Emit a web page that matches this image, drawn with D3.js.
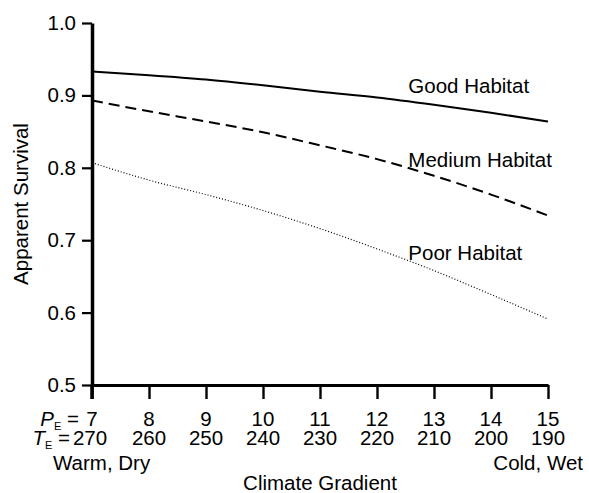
<!DOCTYPE html>
<html>
<head>
<meta charset="utf-8">
<script src="https://cdn.jsdelivr.net/npm/d3@7"></script>
<style>
  html, body { margin: 0; padding: 0; background: #fff; }
  svg { display: block; }
  text { font-family: "Liberation Sans", Arial, Helvetica, sans-serif; fill: #000; }
</style>
</head>
<body>
<svg id="chart" width="589" height="493"></svg>
<script>
// ---- data ----
const pValues = [7, 8, 9, 10, 11, 12, 13, 14, 15];
const tValues = [270, 260, 250, 240, 230, 220, 210, 200, 190];
const goodHabitat   = [0.933, 0.928, 0.922, 0.914, 0.905, 0.897, 0.887, 0.876, 0.864];
const mediumHabitat = [0.893, 0.878, 0.864, 0.849, 0.831, 0.812, 0.789, 0.763, 0.734];
const poorHabitat   = [0.807, 0.783, 0.763, 0.741, 0.716, 0.688, 0.658, 0.625, 0.591];
const yTicks = [0.5, 0.6, 0.7, 0.8, 0.9, 1.0];
const seriesNames = ["Good Habitat", "Medium Habitat", "Poor Habitat"];
const labelValues = [0.903, 0.8005, 0.672];

// ---- layout ----
const svg = d3.select("#chart");
const x = d3.scaleLinear().domain([7, 15]).range([92, 548]);
const y = d3.scaleLinear().domain([0.5, 1.0]).range([385, 23]);
const FS = "20.5px";

// ---- y axis ----
const yAxis = d3.axisLeft(y).tickValues(yTicks).tickSize(10).tickSizeOuter(0)
  .tickPadding(6).tickFormat(d3.format(".1f"));
const gy = svg.append("g").attr("transform", `translate(${x(7)},0)`).call(yAxis);
gy.select(".domain").attr("stroke", "#000").attr("stroke-width", 3.5);
gy.selectAll(".tick line").attr("stroke", "#000").attr("stroke-width", 2.2);
gy.selectAll(".tick text").style("font-size", FS).attr("fill", "#000")
  .attr("font-family", "Liberation Sans, Arial, sans-serif");

// ---- x axis ----
const xAxis = d3.axisBottom(x).tickValues(pValues).tickSize(14).tickSizeOuter(0).tickFormat("");
const gx = svg.append("g").attr("transform", `translate(0,${y(0.5)})`).call(xAxis);
gx.select(".domain").attr("stroke", "#000").attr("stroke-width", 3);
gx.selectAll(".tick line").attr("stroke", "#000").attr("stroke-width", 2.4);

// extend y axis down through the first tick
svg.append("line").attr("x1", x(7)).attr("x2", x(7))
  .attr("y1", y(0.5)).attr("y2", y(0.5) + 14)
  .attr("stroke", "#000").attr("stroke-width", 3.5);

// tick label rows
svg.append("g").selectAll("text").data(pValues).join("text")
  .attr("x", d => x(d)).attr("y", 426).attr("text-anchor", "middle")
  .style("font-size", FS).text(d => d);
svg.append("g").selectAll("text").data(pValues).join("text")
  .attr("x", (d, i) => x(d) - (i === 0 ? 2 : 0)).attr("y", 445).attr("text-anchor", "middle")
  .style("font-size", FS).text((d, i) => tValues[i]);

// prefixes
function prefix(letter, yPos, endX) {
  const t = svg.append("text").attr("x", endX).attr("y", yPos)
    .attr("text-anchor", "end").style("font-size", FS);
  t.append("tspan").style("font-style", "italic").text(letter);
  t.append("tspan").attr("dy", 4).style("font-size", "11px").text("E");
  t.append("tspan").attr("dy", -4).text("\u00A0=");
}
prefix("P", 426, 79);
prefix("T", 445, 70);

svg.append("text").attr("x", 53).attr("y", 470).style("font-size", FS).text("Warm, Dry");
svg.append("text").attr("x", 583).attr("y", 470).attr("text-anchor", "end")
  .style("font-size", FS).text("Cold, Wet");
svg.append("text").attr("x", (x(7) + x(15)) / 2).attr("y", 490).attr("text-anchor", "middle")
  .style("font-size", FS).text("Climate Gradient");

svg.append("text")
  .attr("transform", `translate(28,${(y(0.5) + y(1.0)) / 2}) rotate(-90)`)
  .attr("text-anchor", "middle").style("font-size", FS).text("Apparent Survival");

// ---- lines ----
const line = d3.line().x((d, i) => x(pValues[i])).y(d => y(d)).curve(d3.curveMonotoneX);
const series = [
  { vals: goodHabitat, width: 2, dash: null },
  { vals: mediumHabitat, width: 2, dash: "11,6" },
  { vals: poorHabitat, width: 1.2, dash: "1,2" }
];
series.forEach(s => {
  svg.append("path").datum(s.vals).attr("d", line)
    .attr("fill", "none").attr("stroke", "#000")
    .attr("stroke-width", s.width)
    .attr("stroke-dasharray", s.dash);
});

// series labels
svg.append("g").selectAll("text").data(seriesNames).join("text")
  .attr("x", x(12.55)).attr("y", (d, i) => y(labelValues[i]))
  .style("font-size", FS).text(d => d);
</script>
</body>
</html>
